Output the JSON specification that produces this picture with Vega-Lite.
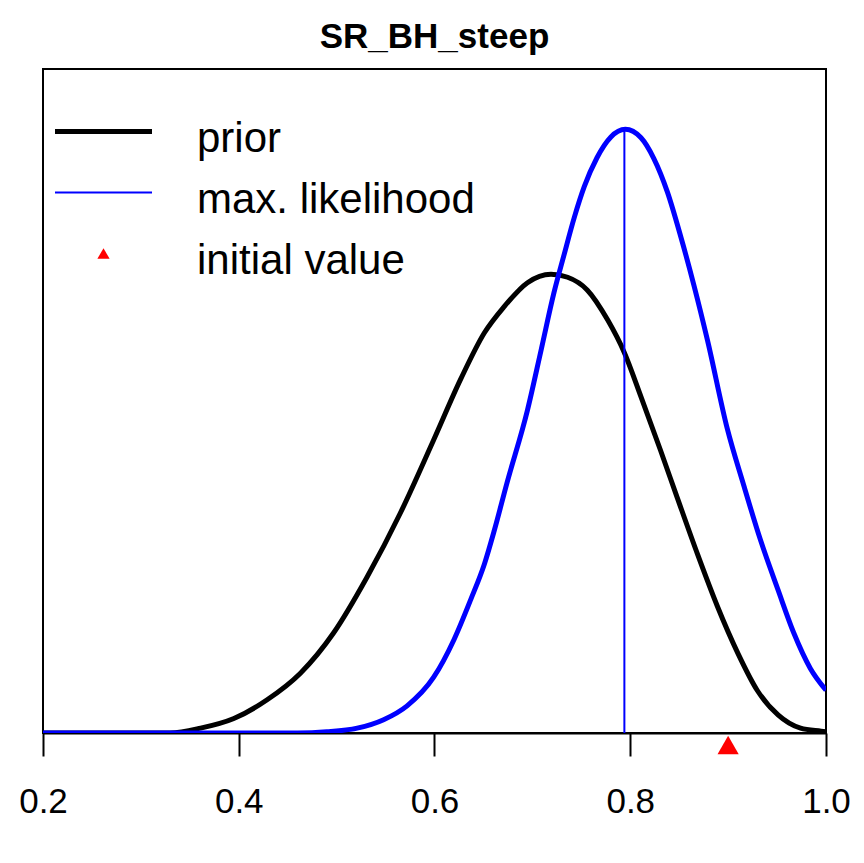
{
  "$schema": "https://vega.github.io/schema/vega-lite/v6.json",
  "autosize": "none",
  "width": 783,
  "height": 664,
  "padding": {"left": 43, "top": 69, "right": 38, "bottom": 130},
  "background": "white",
  "title": {"text": "SR_BH_steep", "font": "Liberation Sans", "fontSize": 35, "fontWeight": "bold", "color": "black", "offset": 14, "anchor": "middle"},
  "datasets": {
    "curves": [
      {"series": "prior", "x": 0.2, "y": 0},
      {"series": "prior", "x": 0.33, "y": 0},
      {"series": "prior", "x": 0.361, "y": 0.008},
      {"series": "prior", "x": 0.395, "y": 0.024},
      {"series": "prior", "x": 0.429, "y": 0.055},
      {"series": "prior", "x": 0.463, "y": 0.099},
      {"series": "prior", "x": 0.497, "y": 0.166},
      {"series": "prior", "x": 0.531, "y": 0.258},
      {"series": "prior", "x": 0.565, "y": 0.364},
      {"series": "prior", "x": 0.599, "y": 0.485},
      {"series": "prior", "x": 0.627, "y": 0.587},
      {"series": "prior", "x": 0.651, "y": 0.663},
      {"series": "prior", "x": 0.671, "y": 0.706},
      {"series": "prior", "x": 0.695, "y": 0.746},
      {"series": "prior", "x": 0.719, "y": 0.76},
      {"series": "prior", "x": 0.736, "y": 0.755},
      {"series": "prior", "x": 0.756, "y": 0.734},
      {"series": "prior", "x": 0.777, "y": 0.684},
      {"series": "prior", "x": 0.794, "y": 0.63},
      {"series": "prior", "x": 0.811, "y": 0.557},
      {"series": "prior", "x": 0.831, "y": 0.468},
      {"series": "prior", "x": 0.848, "y": 0.39},
      {"series": "prior", "x": 0.869, "y": 0.295},
      {"series": "prior", "x": 0.889, "y": 0.21},
      {"series": "prior", "x": 0.91, "y": 0.132},
      {"series": "prior", "x": 0.93, "y": 0.07},
      {"series": "prior", "x": 0.951, "y": 0.03},
      {"series": "prior", "x": 0.974, "y": 0.008},
      {"series": "prior", "x": 0.995, "y": 0.003},
      {"series": "prior", "x": 1.0, "y": 0.002},
      {"series": "max. likelihood", "x": 0.2, "y": 0},
      {"series": "max. likelihood", "x": 0.46, "y": 0},
      {"series": "max. likelihood", "x": 0.49, "y": 0.002},
      {"series": "max. likelihood", "x": 0.521, "y": 0.008},
      {"series": "max. likelihood", "x": 0.548, "y": 0.022},
      {"series": "max. likelihood", "x": 0.572, "y": 0.045},
      {"series": "max. likelihood", "x": 0.599, "y": 0.092},
      {"series": "max. likelihood", "x": 0.62, "y": 0.155},
      {"series": "max. likelihood", "x": 0.637, "y": 0.221},
      {"series": "max. likelihood", "x": 0.651, "y": 0.28},
      {"series": "max. likelihood", "x": 0.661, "y": 0.335},
      {"series": "max. likelihood", "x": 0.674, "y": 0.414},
      {"series": "max. likelihood", "x": 0.695, "y": 0.535},
      {"series": "max. likelihood", "x": 0.709, "y": 0.635},
      {"series": "max. likelihood", "x": 0.722, "y": 0.729},
      {"series": "max. likelihood", "x": 0.732, "y": 0.79},
      {"series": "max. likelihood", "x": 0.743, "y": 0.855},
      {"series": "max. likelihood", "x": 0.753, "y": 0.905},
      {"series": "max. likelihood", "x": 0.766, "y": 0.953},
      {"series": "max. likelihood", "x": 0.78, "y": 0.987},
      {"series": "max. likelihood", "x": 0.795, "y": 1.0},
      {"series": "max. likelihood", "x": 0.811, "y": 0.986},
      {"series": "max. likelihood", "x": 0.824, "y": 0.952},
      {"series": "max. likelihood", "x": 0.838, "y": 0.896},
      {"series": "max. likelihood", "x": 0.852, "y": 0.82},
      {"series": "max. likelihood", "x": 0.865, "y": 0.742},
      {"series": "max. likelihood", "x": 0.879, "y": 0.65},
      {"series": "max. likelihood", "x": 0.899, "y": 0.505},
      {"series": "max. likelihood", "x": 0.916, "y": 0.41},
      {"series": "max. likelihood", "x": 0.933, "y": 0.32},
      {"series": "max. likelihood", "x": 0.951, "y": 0.237},
      {"series": "max. likelihood", "x": 0.967, "y": 0.166},
      {"series": "max. likelihood", "x": 0.984, "y": 0.107},
      {"series": "max. likelihood", "x": 1.0, "y": 0.071}
    ],
    "mle": [{"x": 0.794, "ymin": 0, "ymax": 1.0}],
    "init": [{"series": "initial value", "x": 0.9, "y": 0}]
  },
  "layer": [
    {
      "data": {"name": "curves"},
      "transform": [{"filter": "datum.series === 'prior'"}],
      "mark": {"type": "line", "strokeWidth": 5, "clip": true, "interpolate": "monotone"},
      "encoding": {
        "x": {"field": "x", "type": "quantitative", "scale": {"domain": [0.2, 1.0], "nice": false, "zero": false},
          "axis": {"values": [0.2, 0.4, 0.6, 0.8, 1.0], "format": ".1f", "title": null, "grid": false,
            "tickSize": 23, "tickWidth": 2, "tickColor": "black", "domainColor": "black", "domainWidth": 2,
            "labelFont": "Liberation Sans", "labelFontSize": 35, "labelColor": "black", "labelPadding": 28,
            "labelFlush": false, "labelOverlap": false}},
        "y": {"field": "y", "type": "quantitative", "scale": {"domain": [0, 1.1], "nice": false}, "axis": null},
        "color": {"field": "series", "type": "nominal",
          "scale": {"domain": ["prior", "max. likelihood", "initial value"], "range": ["#000000", "#0000ff", "#ff0000"]},
          "legend": {
            "orient": "none", "legendX": 12, "legendY": 42, "title": null, "padding": 0,
            "symbolSize": 9409, "symbolStrokeWidth": 5, "symbolType": "stroke",
            "labelFont": "Liberation Sans", "labelFontSize": 42, "labelColor": "black",
            "labelOffset": 45, "clipHeight": 41, "rowPadding": 12, "labelLimit": 500,
            "encode": {
              "symbols": {"update": {
                "x": {"value": 48.5},
                "shape": {"signal": "datum.value === 'initial value' ? 'triangle-up' : 'stroke'"},
                "size": {"signal": "datum.value === 'initial value' ? 150 : 9409"},
                "strokeWidth": {"signal": "datum.value === 'prior' ? 5 : datum.value === 'max. likelihood' ? 2 : 0"},
                "fill": {"signal": "datum.value === 'initial value' ? '#ff0000' : 'transparent'"},
                "stroke": {"signal": "datum.value === 'prior' ? '#000000' : datum.value === 'max. likelihood' ? '#0000ff' : 'transparent'"},
                "opacity": {"value": 1}
              }},
              "labels": {"update": {"x": {"value": 142}, "dy": {"value": 7}}}
            }
          }}
      }
    },
    {
      "data": {"name": "curves"},
      "transform": [{"filter": "datum.series === 'max. likelihood'"}],
      "mark": {"type": "line", "strokeWidth": 5, "clip": true, "interpolate": "monotone"},
      "encoding": {
        "x": {"field": "x", "type": "quantitative"},
        "y": {"field": "y", "type": "quantitative"},
        "color": {"field": "series", "type": "nominal"}
      }
    },
    {
      "data": {"name": "mle"},
      "mark": {"type": "rule", "color": "#0000ff", "strokeWidth": 2},
      "encoding": {
        "x": {"field": "x", "type": "quantitative"},
        "y": {"field": "ymin", "type": "quantitative"},
        "y2": {"field": "ymax"}
      }
    },
    {
      "data": {"name": "init"},
      "mark": {"type": "point", "shape": "triangle-up", "filled": true, "size": 450, "opacity": 1, "yOffset": 12, "clip": false},
      "encoding": {
        "x": {"field": "x", "type": "quantitative"},
        "y": {"field": "y", "type": "quantitative"},
        "color": {"field": "series", "type": "nominal"}
      }
    }
  ],
  "config": {
    "view": {"stroke": "#000000", "strokeWidth": 2},
    "font": "Liberation Sans"
  }
}
